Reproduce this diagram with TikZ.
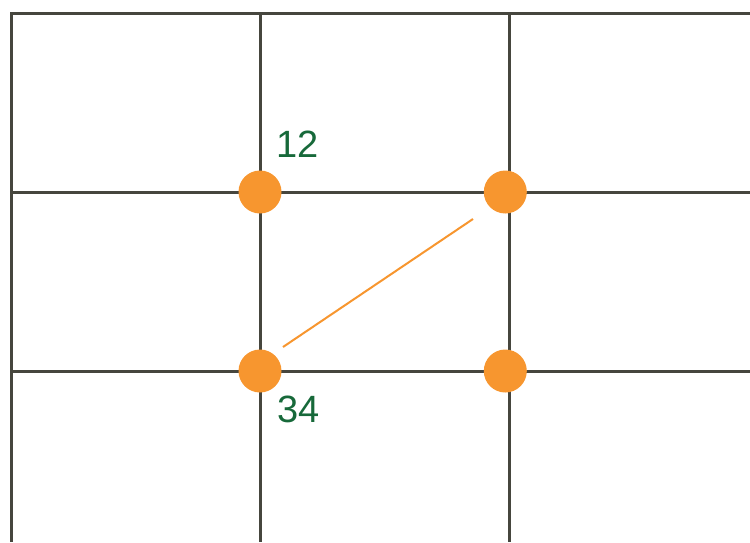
\documentclass[tikz,border=0pt]{standalone}
\usepackage{fontspec}
\setmainfont{Liberation Sans}
\definecolor{gridgray}{HTML}{46463E}
\definecolor{dotorange}{HTML}{F7962F}
\definecolor{lblgreen}{HTML}{17693A}
\begin{document}
\begin{tikzpicture}[x=1pt, y=-1pt,
    gridline/.style={line width=3pt, draw=gridgray},
    dot/.style={circle, fill=dotorange, minimum size=43pt, inner sep=0pt, outer sep=0pt},
    lbl/.style={text=lblgreen, inner sep=0, outer sep=0, font=\fontsize{38}{40}\selectfont}]
      \useasboundingbox (0,0) rectangle (750,542);

      % grid
      \draw[gridline] (750,13) -- (11,13) -- (11,542);
      \foreach \y in {192,371}
        \draw[gridline] (11,\y) -- (750,\y);
      \foreach \x in {260,509.5}
        \draw[gridline] (\x,13) -- (\x,542);

      % dots
      \node[dot] (d12) at (260,192) {};
      \node[dot] (dtr) at (505.3,192) {};
      \node[dot] (d34) at (260,371) {};
      \node[dot] (dbr) at (505.3,371) {};

      \node[lbl, anchor=base west] (l12) at ([shift={(16.5,-35)}]d12.center) {12};
      \node[lbl, anchor=base west] (l34) at ([shift={(17.5,51)}]d34.center) {34};

      \coordinate (diag-a) at (283,347);
      \coordinate (diag-b) at (473,219);
      \draw[dotorange, line width=2pt] (diag-a) -- (diag-b);
    \end{tikzpicture}
\end{document}
